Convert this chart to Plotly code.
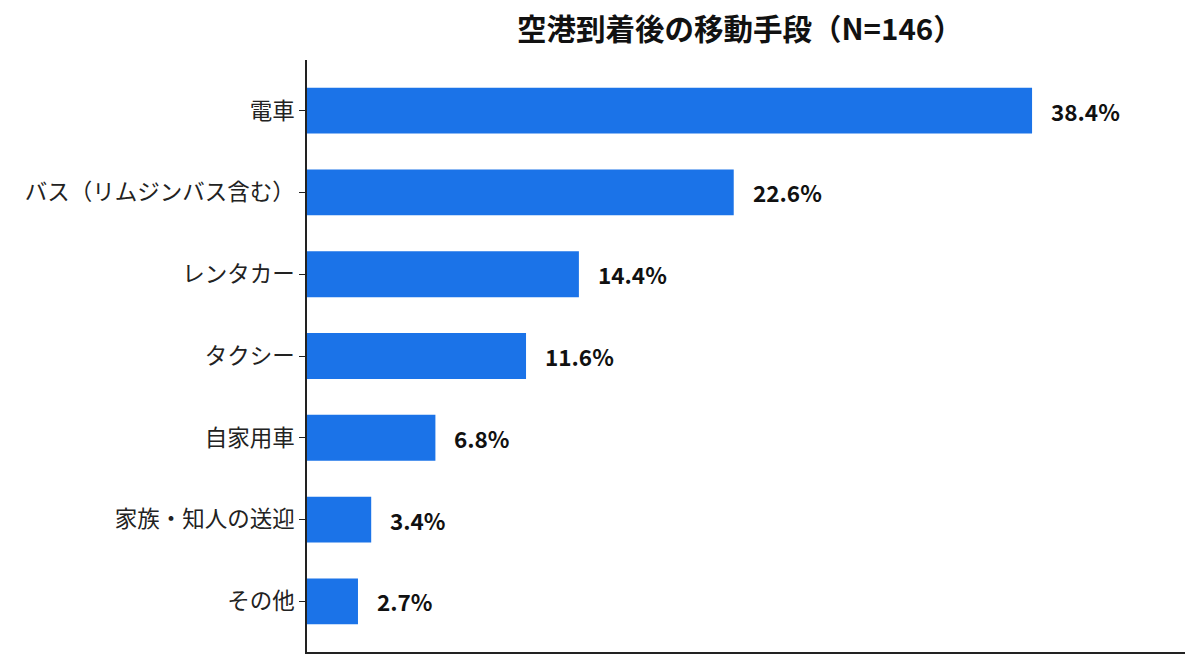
import plotly.graph_objects as go

categories = ["電車", "バス（リムジンバス含む）", "レンタカー", "タクシー", "自家用車", "家族・知人の送迎", "その他"]
values = [38.4, 22.6, 14.4, 11.6, 6.8, 3.4, 2.7]
title = "空港到着後の移動手段（N=146）"

FONT = "Noto Sans CJK JP"
BAR = "#1b73e8"

fig = go.Figure()
fig.add_trace(go.Bar(
    x=values, y=categories, orientation="h",
    marker=dict(color=BAR, line=dict(width=0)),
    width=0.56, hoverinfo="skip",
))

for c, v in zip(categories, values):
    fig.add_annotation(
        x=v, y=c, text=f"<b>{v:.1f}%</b>", showarrow=False,
        xanchor="left", xshift=17,
        font=dict(family=FONT, size=22.5, color="#111111"),
    )

# title as a centered annotation above the plot area
fig.add_annotation(
    text=f"<b>{title}</b>", xref="paper", yref="paper", x=0.5, y=1,
    xanchor="center", yanchor="bottom", yshift=10, xshift=-6, showarrow=False,
    font=dict(family=FONT, size=29.5, color="#111111"),
)

fig.update_layout(
    width=1200, height=668,
    margin=dict(l=299, r=23, t=52, b=24),
    paper_bgcolor="white", plot_bgcolor="white",
    showlegend=False,
    font=dict(family=FONT, color="#222222"),
)
fig.update_xaxes(range=[0, 46.5], showticklabels=False, showgrid=False, zeroline=False,
                 showline=True, linecolor="#222222", linewidth=1.5, ticks="")
fig.update_yaxes(categoryorder="array", categoryarray=categories, autorange=False,
                 range=[6.62, -0.62], showgrid=False, zeroline=False,
                 showline=True, linecolor="#222222", linewidth=1.5,
                 ticks="outside", ticklen=6, tickcolor="#222222", tickwidth=1.2,
                 tickfont=dict(family=FONT, size=22.5, color="#222222"))

fig.write_html("out.html")
